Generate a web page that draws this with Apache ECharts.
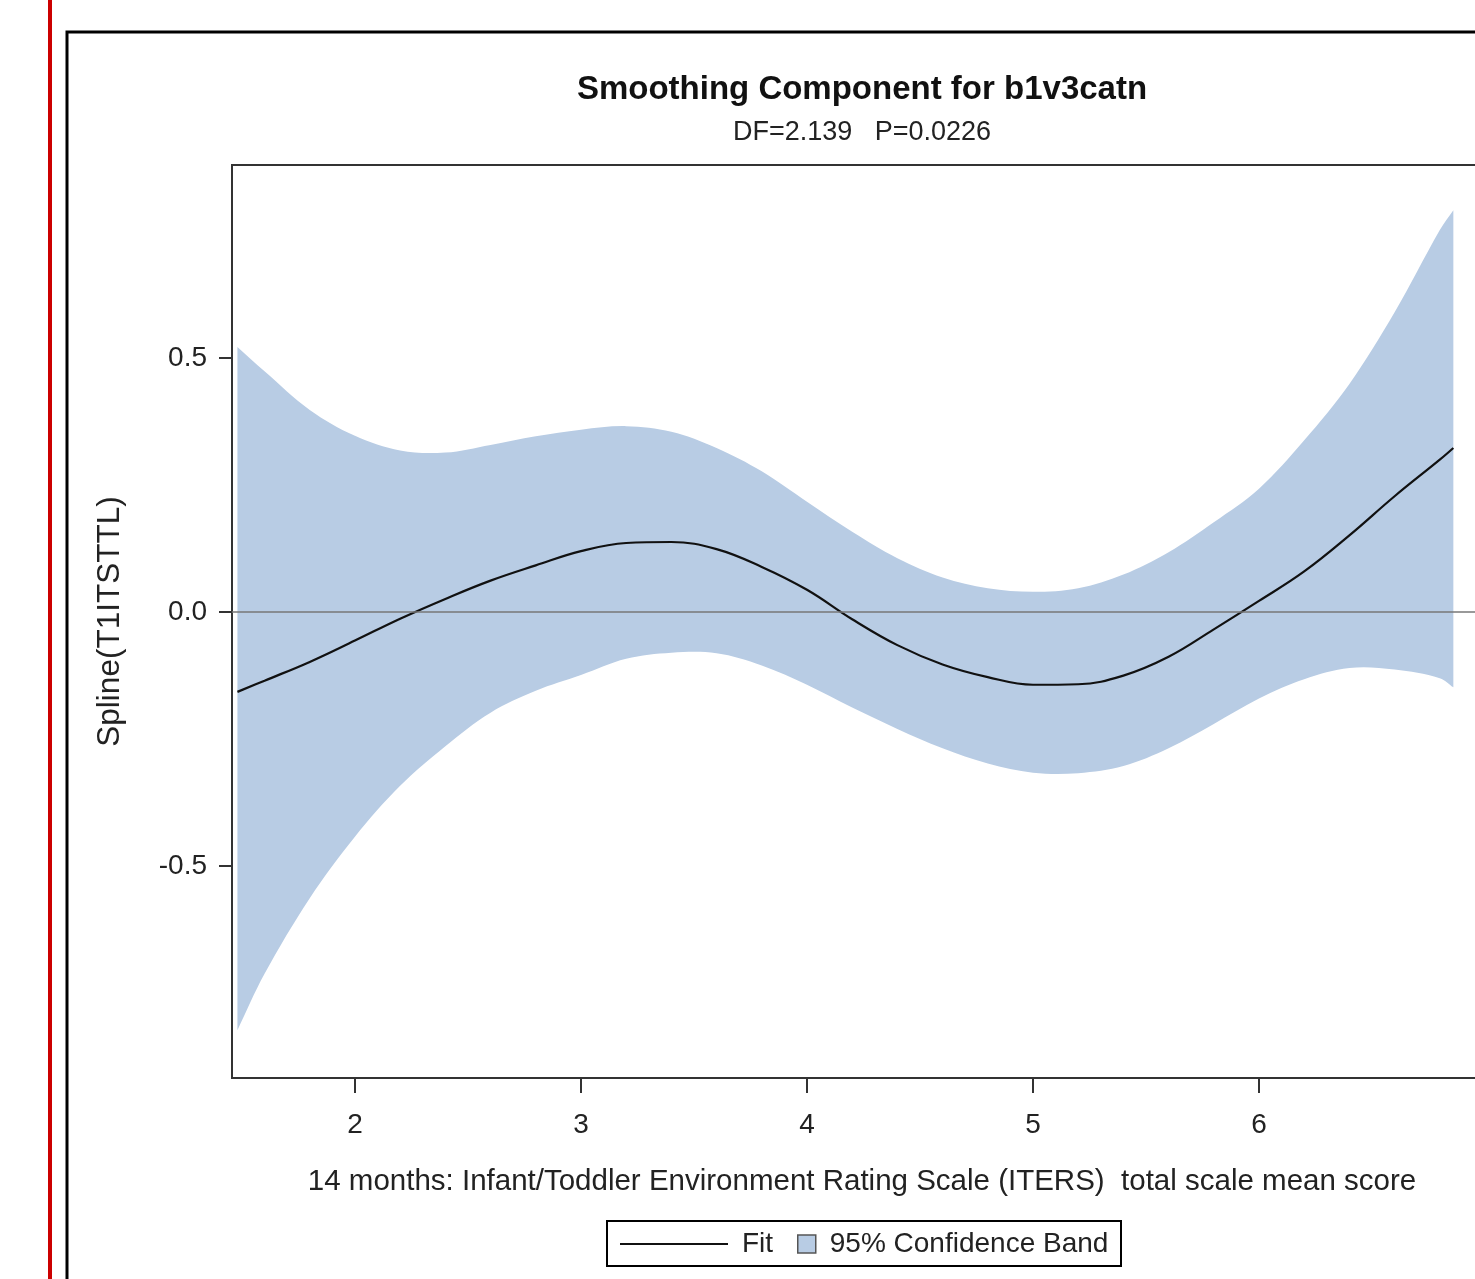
<!DOCTYPE html>
<html>
<head>
<meta charset="utf-8">
<script src="https://cdn.jsdelivr.net/npm/echarts@6/dist/echarts.min.js"></script>
<style>
  html, body { margin: 0; padding: 0; overflow: hidden; background: #fff; }
  #main { width: 1724px; height: 1279px; }
</style>
</head>
<body>
<div id="main"></div>
<script>
// ITERS mean score (x) and spline component values
var xValues = [1.48, 1.6, 1.8, 2.0, 2.2, 2.4, 2.6, 2.8, 3.0, 3.2, 3.4, 3.6, 3.8, 4.0, 4.2,
  4.4, 4.6, 4.8, 5.0, 5.2, 5.4, 5.6, 5.8, 6.0, 6.2, 6.4, 6.6, 6.8, 6.86];
var fitValues = [-0.157, -0.135, -0.098, -0.056, -0.013, 0.026, 0.062, 0.092, 0.120, 0.136,
  0.138, 0.124, 0.089, 0.044, -0.014, -0.065, -0.103, -0.128, -0.143, -0.142, -0.125,
  -0.088, -0.034, 0.022, 0.080, 0.151, 0.228, 0.300, 0.323];
var upperValues = [0.522, 0.474, 0.398, 0.347, 0.318, 0.314, 0.329, 0.346, 0.359, 0.366,
  0.355, 0.323, 0.277, 0.217, 0.158, 0.106, 0.068, 0.047, 0.040, 0.047, 0.074, 0.118,
  0.177, 0.243, 0.338, 0.449, 0.590, 0.752, 0.791];
var lowerValues = [-0.823, -0.712, -0.563, -0.442, -0.342, -0.264, -0.198, -0.155, -0.124,
  -0.092, -0.080, -0.081, -0.105, -0.143, -0.188, -0.230, -0.268, -0.298, -0.316, -0.317,
  -0.303, -0.268, -0.220, -0.170, -0.132, -0.110, -0.113, -0.130, -0.148];
var xTicks = [2, 3, 4, 5, 6, 7];
var yTicks = [-0.5, 0, 0.5];

(function () {
  var myChart = echarts.init(document.getElementById('main'));
  var font = '"Liberation Sans", Arial, sans-serif';
  var bandColor = '#b8cce4';

  var bandData = xValues.map(function (x, i) { return [x, lowerValues[i], upperValues[i]]; });
  var fitData = xValues.map(function (x, i) { return [x, fitValues[i]]; });

  // 置信带：上界正向 + 下界反向，拼成一个多边形
  function renderBand(params, api) {
    if (params.dataIndex !== 0) return;
    var n = xValues.length;
    var pts = [];
    var i;
    for (i = 0; i < n; i++) pts.push(api.coord([xValues[i], upperValues[i]]));
    pts.push(pts[pts.length - 1]); // 端点重复 -> 直角
    var lowPts = [];
    for (i = n - 1; i >= 0; i--) lowPts.push(api.coord([xValues[i], lowerValues[i]]));
    pts.push(lowPts[0]);
    pts = pts.concat(lowPts);
    pts.push(lowPts[lowPts.length - 1]);
    pts.unshift(pts[0]);
    return {
      type: 'polygon',
      shape: { points: pts, smooth: 0.35 },
      style: { fill: bandColor, stroke: null }
    };
  }

  var option = {
    animation: false,
    title: {
      text: 'Smoothing Component for b1v3catn',
      subtext: 'DF=2.139   P=0.0226',
      left: 'center',
      top: 73,
      padding: 0,
      itemGap: 13,
      textStyle: { fontFamily: font, fontSize: 33, fontWeight: 'bold', color: '#111' },
      subtextStyle: { fontFamily: font, fontSize: 27, color: '#222' }
    },
    legend: [{
      left: 620,
      top: 1230,
      padding: 0,
      itemWidth: 108,
      itemHeight: 2,
      data: [{ name: 'Fit', icon: 'rect', itemStyle: { color: '#111' } }],
      textStyle: { fontFamily: font, fontSize: 28, color: '#222', padding: [0, 0, 0, 9] }
    }, {
      left: 797,
      top: 1230,
      padding: 0,
      itemWidth: 18,
      itemHeight: 18,
      data: [{ name: '95% Confidence Band', icon: 'rect',
        itemStyle: { color: bandColor, borderColor: '#555', borderWidth: 1.5 } }],
      textStyle: { fontFamily: font, fontSize: 28, color: '#222', padding: [0, 0, 0, 9] }
    }],
    grid: {
      left: 232,
      right: 232,
      top: 165,
      bottom: 201,
      show: true,
      borderColor: '#333',
      borderWidth: 2
    },
    xAxis: {
      type: 'value',
      min: 1.456,
      max: 7.031,
      name: '14 months: Infant/Toddler Environment Rating Scale (ITERS)  total scale mean score',
      nameLocation: 'middle',
      nameGap: 89,
      nameTextStyle: { fontFamily: font, fontSize: 29.5, color: '#222' },
      axisLine: { show: false, onZero: false },
      axisTick: { show: true, length: 15, customValues: xTicks, lineStyle: { color: '#333', width: 2 } },
      axisLabel: { customValues: xTicks, margin: 33, fontFamily: font, fontSize: 28, color: '#222' },
      splitLine: { show: false }
    },
    yAxis: {
      type: 'value',
      min: -0.917,
      max: 0.88,
      name: 'Spline(T1ITSTTL)',
      nameLocation: 'middle',
      nameGap: 106,
      nameTextStyle: { fontFamily: font, fontSize: 31.5, color: '#222' },
      axisLine: { show: false, onZero: false },
      axisTick: { show: true, length: 13, customValues: yTicks, lineStyle: { color: '#333', width: 2 } },
      axisLabel: {
        customValues: yTicks,
        margin: 25,
        fontFamily: font,
        fontSize: 28,
        color: '#222',
        formatter: function (v) { return v.toFixed(1); }
      },
      splitLine: { show: false }
    },
    graphic: [
      // 左侧红线
      { type: 'rect', shape: { x: 48, y: 0, width: 4, height: 1279 }, style: { fill: '#cc0000' }, silent: true },
      // 外框
      { type: 'rect', shape: { x: 67, y: 32, width: 1700, height: 1400 },
        style: { fill: 'none', stroke: '#000', lineWidth: 3 }, silent: true },
      // 图例框
      { type: 'rect', shape: { x: 607, y: 1221, width: 514, height: 45 },
        style: { fill: 'none', stroke: '#000', lineWidth: 2 }, silent: true }
    ],
    series: [{
      name: '95% Confidence Band',
      type: 'custom',
      data: bandData,
      encode: { x: 0, y: [1, 2] },
      renderItem: renderBand,
      clip: true,
      silent: true,
      itemStyle: { color: bandColor }
    }, {
      name: 'Fit',
      type: 'line',
      data: fitData,
      symbol: 'none',
      smooth: 0.4,
      color: '#111',
      lineStyle: { color: '#111', width: 2.2 },
      markLine: {
        silent: true,
        symbol: ['none', 'none'],
        label: { show: false },
        lineStyle: { color: '#777', width: 1.5, type: 'solid' },
        data: [{ yAxis: 0 }]
      }
    }]
  };

  myChart.setOption(option);
  window.addEventListener('resize', function () {
    myChart.resize();
  });
})();
</script>
</body>
</html>
